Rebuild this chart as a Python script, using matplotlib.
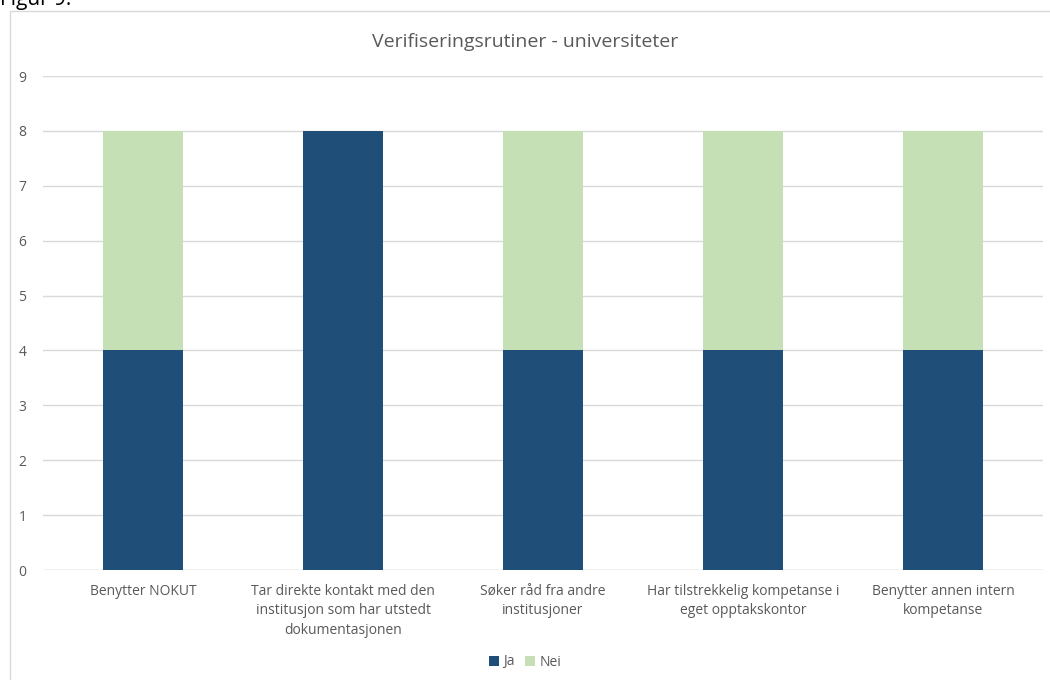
import matplotlib.pyplot as plt
import matplotlib.patches as mpatches
import numpy as np

categories = ["Benytter NOKUT",
              "Tar direkte kontakt med den\ninstitusjon som har utstedt\ndokumentasjonen",
              "Søker råd fra andre\ninstitusjoner",
              "Har tilstrekkelig kompetanse i\neget opptakskontor",
              "Benytter annen intern\nkompetanse"]
ja = [4, 8, 4, 4, 4]
nei = [4, 0, 4, 4, 4]

plt.rcParams['font.family'] = ['Open Sans', 'DejaVu Sans']

fig = plt.figure(figsize=(10.5, 6.8), dpi=100)
ax = fig.add_axes([43 / 1050, 1 - 570 / 680, 1000 / 1050, 494 / 680])

x = np.arange(len(categories))
ax.bar(x, ja, width=0.4, color='#1F4E79', label='Ja', zorder=3)
ax.bar(x, nei, width=0.4, bottom=ja, color='#C5E0B4', label='Nei', zorder=3)

ax.set_xlim(-0.5, len(categories) - 0.5)
ax.set_ylim(0, 9)
ax.set_yticks(range(10))
ax.yaxis.grid(True, color='#D9D9D9', linewidth=1, zorder=0)
for s in ax.spines.values():
    s.set_visible(False)
ax.axhline(0, color='#D9D9D9', linewidth=1, zorder=1)
ax.tick_params(axis='both', length=0, colors='#595959', labelsize=10)
ax.tick_params(axis='y', pad=12)
ax.tick_params(axis='x', pad=10)
ax.set_xticks(x)
ax.set_xticklabels(categories, linespacing=1.4)

fig.text(0.5, 1 - 42 / 680, "Verifiseringsrutiner - universiteter",
         ha='center', va='center', fontsize=14, color='#595959')
fig.text(0.0, 1.0, "Figur 9:", ha='left', va='center', fontsize=15, color='#000000')

fig.legend(loc='center', bbox_to_anchor=(0.5, 1 - 662 / 680), ncol=2, frameon=False,
           fontsize=10, handlelength=0.7, handleheight=0.7, handletextpad=0.3,
           columnspacing=0.8, labelcolor='#595959')

fig.patches.append(mpatches.Rectangle((10 / 1050, -0.1), 1.1, 1 - 11 / 680 + 0.1,
                                      transform=fig.transFigure, fill=False,
                                      edgecolor='#D9D9D9', linewidth=1))

fig.savefig('out.png')
